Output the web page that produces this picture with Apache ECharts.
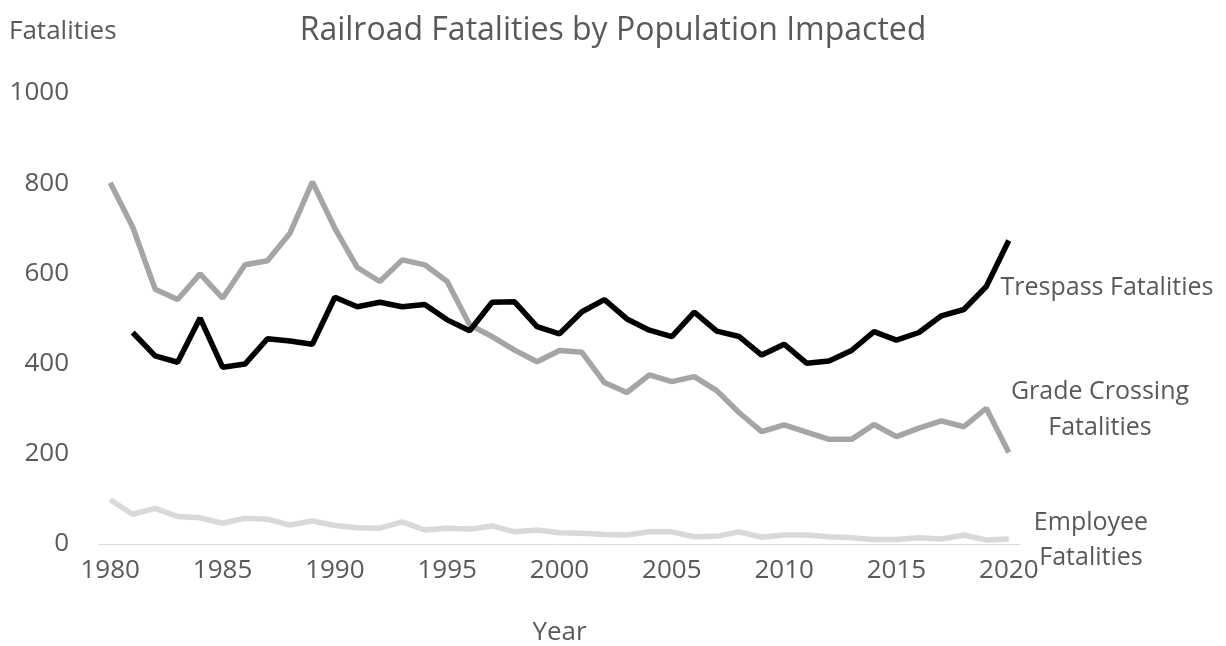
<!DOCTYPE html>
<html>
<head>
<meta charset="utf-8">
<script src="https://cdn.jsdelivr.net/npm/echarts@6/dist/echarts.min.js"></script>
<style>
  html, body { margin: 0; padding: 0; background: #fff; }
  #chart { width: 1226px; height: 646px; }
</style>
</head>
<body>
<div id="chart"></div>
<script>
var years = [];
for (var y = 1980; y <= 2020; y++) years.push(String(y));

var trespass = [null, 469, 417, 403, 501, 392, 399, 455, 450, 443,
  547, 526, 536, 526, 531, 497, 473, 536, 537, 482,
  466, 515, 542, 499, 474, 460, 514, 472, 460, 419,
  443, 401, 406, 429, 471, 452, 469, 506, 520, 571, 673];

var gradeCrossing = [801, 703, 565, 542, 599, 545, 619, 628, 689, 803,
  700, 613, 582, 630, 619, 582, 486, 460, 430, 404,
  429, 425, 358, 336, 375, 360, 371, 340, 291, 249,
  264, 248, 232, 232, 265, 238, 257, 273, 260, 301, 203];

var employee = [98, 66, 79, 61, 58, 46, 57, 55, 42, 51,
  41, 36, 35, 49, 31, 35, 33, 40, 27, 31,
  25, 24, 21, 20, 27, 27, 16, 17, 27, 15,
  20, 20, 16, 14, 10, 10, 14, 11, 20, 9, 11];

var textColor = '#595959';
var font = 'Open Sans';

var chart = echarts.init(document.getElementById('chart'));

var option = {
  animation: false,
  textStyle: { fontFamily: font },
  title: [
    {
      text: 'Railroad Fatalities by Population Impacted',
      left: 'center',
      top: 10,
      textStyle: { fontFamily: font, fontSize: 32, fontWeight: 'normal', color: textColor }
    },
    {
      text: 'Fatalities',
      left: 4,
      top: 14,
      textStyle: { fontFamily: font, fontSize: 26, fontWeight: 'normal', color: textColor }
    }
  ],
  grid: { left: 99, right: 206, top: 93, bottom: 102, outerBoundsMode: 'none' },
  xAxis: {
    type: 'category',
    data: years,
    boundaryGap: true,
    name: 'Year',
    nameLocation: 'middle',
    nameGap: 76,
    nameTextStyle: { fontFamily: font, fontSize: 26, color: textColor },
    axisLine: { lineStyle: { color: '#D9D9D9', width: 1 } },
    axisTick: { show: false },
    axisLabel: {
      interval: 4,
      margin: 14,
      fontFamily: font,
      fontSize: 26,
      color: textColor
    },
    splitLine: { show: false }
  },
  yAxis: {
    type: 'value',
    min: 0,
    max: 1000,
    interval: 200,
    axisLine: { show: false },
    axisTick: { show: false },
    splitLine: { show: false },
    axisLabel: {
      margin: 30,
      fontFamily: font,
      fontSize: 26,
      color: textColor,
      formatter: function (v) { return String(v); }
    }
  },
  series: [
    {
      name: 'Employee Fatalities',
      type: 'line',
      data: employee,
      showSymbol: false,
      lineStyle: { color: '#D9D9D9', width: 5.5 },
      itemStyle: { color: '#D9D9D9' }
    },
    {
      name: 'Grade Crossing Fatalities',
      type: 'line',
      data: gradeCrossing,
      showSymbol: false,
      lineStyle: { color: '#A5A5A5', width: 5.5 },
      itemStyle: { color: '#A5A5A5' }
    },
    {
      name: 'Trespass Fatalities',
      type: 'line',
      data: trespass,
      showSymbol: false,
      lineStyle: { color: '#000000', width: 5.5 },
      itemStyle: { color: '#000000' }
    }
  ],
  graphic: [
    {
      type: 'text', x: 1107, y: 288,
      style: { text: 'Trespass Fatalities', font: '25px "Open Sans"', fill: textColor, align: 'center', verticalAlign: 'middle' }
    },
    {
      type: 'text', x: 1100, y: 410,
      style: { text: 'Grade Crossing\nFatalities', font: '25px "Open Sans"', fill: textColor, align: 'center', verticalAlign: 'middle', lineHeight: 36 }
    },
    {
      type: 'text', x: 1091, y: 540,
      style: { text: 'Employee\nFatalities', font: '25px "Open Sans"', fill: textColor, align: 'center', verticalAlign: 'middle', lineHeight: 35 }
    }
  ]
};

chart.setOption(option);
</script>
</body>
</html>
